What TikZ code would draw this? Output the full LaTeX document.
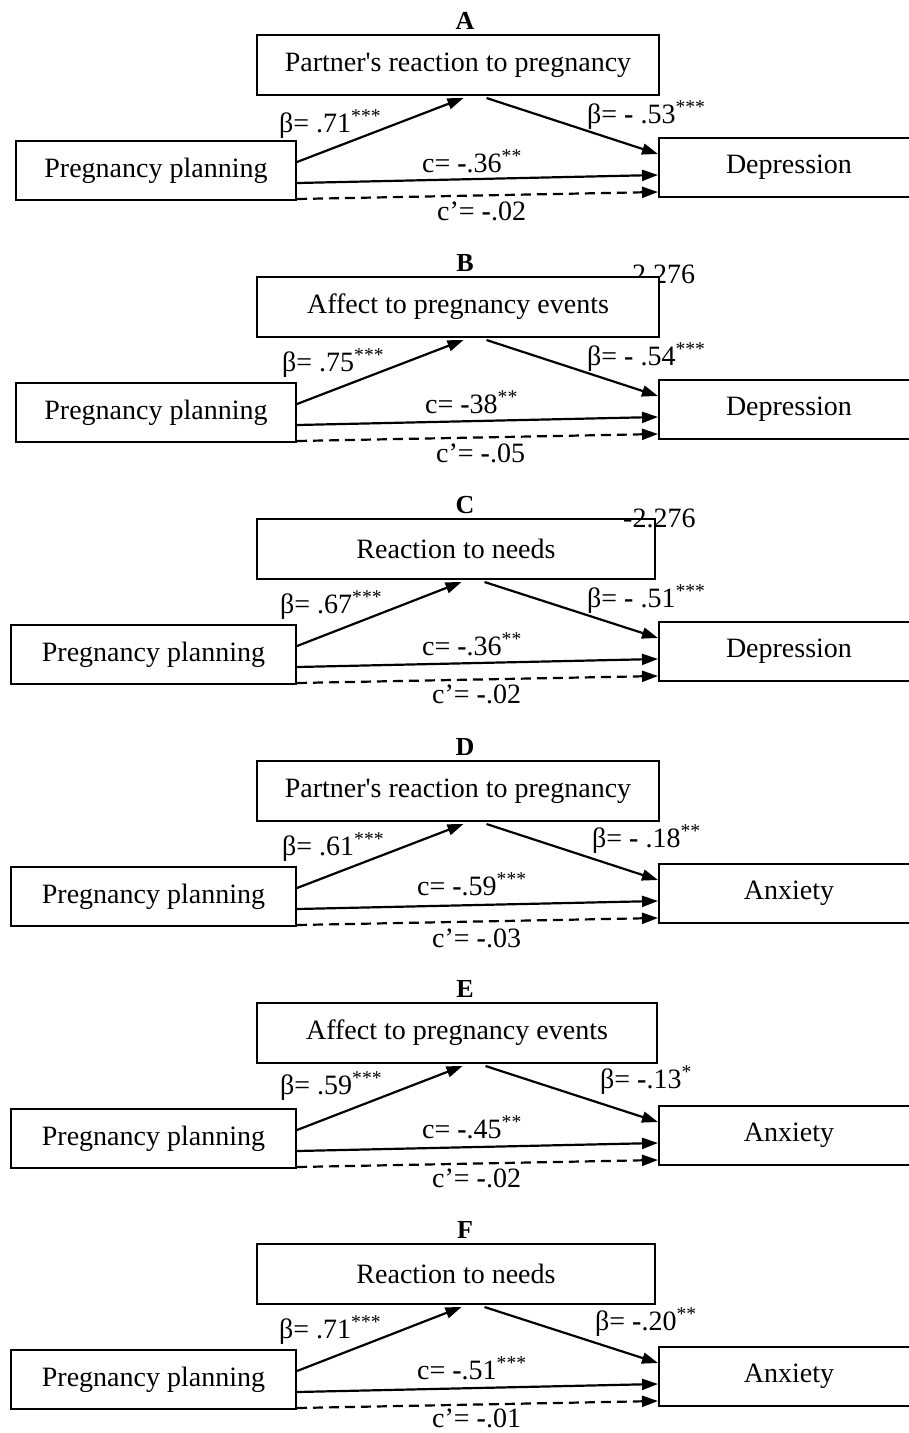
\documentclass[tikz,border=0pt]{standalone}
\usepackage{fontspec}
\setmainfont{Liberation Serif}[Ligatures=TeXOff]
\usetikzlibrary{arrows.meta}
\tikzset{
 bx/.style={draw, line width=2pt, fill=white, inner sep=0pt, font=\fontsize{28}{32}\selectfont},
 lbl/.style={inner sep=0pt, anchor=base west, font=\fontsize{28}{32}\selectfont},
 ltr/.style={inner sep=0pt, font=\bfseries\fontsize{26}{30}\selectfont},
 arr/.style={line width=2.2pt, -{Triangle[length=16pt,width=11pt]}},
 darr/.style={arr, dash pattern=on 10pt off 6pt},
}
\newcommand\mn{{\bfseries -}}
\newcommand\st[1]{\textsuperscript{#1}}
% #1 name, #2 letter, #3 mediator, #4 outcome, #5 left box width, #6 offset, #7 mediator width
\newcommand\mpanel[7]{%
\begin{scope}[shift={(0,#6)}]
\node[ltr] (T#1) at (465,21) {#2};
\node[bx, minimum width=#7pt, minimum height=60pt] (M#1) at ({257+#7/2},65) {#3};
\node[bx, minimum width=#5pt, minimum height=59pt] (L#1) at ({296-#5/2},170.5) {Pregnancy planning};
\node[bx, minimum width=260pt, minimum height=59pt] (R#1) at (789,167.5) {#4};
\draw[arr] ([yshift=8.5pt]L#1.east) -- ([xshift=5.5pt,yshift=-2pt]M#1.south);
\draw[arr] ([xshift=28.5pt,yshift=-2pt]M#1.south) -- ([yshift=13.5pt]R#1.west);
\draw[arr] ([yshift=-12.5pt]L#1.east) -- ([yshift=-7.5pt]R#1.west);
\draw[darr] ([yshift=-28.5pt]L#1.east) -- ([yshift=-24.5pt]R#1.west);
\end{scope}}
\begin{document}
\begin{tikzpicture}[x=1pt,y=-1pt]
\useasboundingbox (0,0) rectangle (909,1433);
% A
\mpanel{a}{A}{Partner's reaction to pregnancy}{Depression}{280}{0}{402}
\node[lbl] (a1) at (279,132) {β= .71\st{***}};
\node[lbl] (a2) at (587,123) {β= \mn\ .53\st{***}};
\node[lbl] (a3) at (422,172) {c= \mn.36\st{**}};
\node[lbl] (a4) at (437,220) {c’= \mn.02};
% B
\node[lbl] (bx) at (632,283) {2.276};
\mpanel{b}{B}{Affect to pregnancy events}{Depression}{280}{242}{402}
\node[lbl] (b1) at (282,371) {β= .75\st{***}};
\node[lbl] (b2) at (587,365) {β= \mn\ .54\st{***}};
\node[lbl] (b3) at (425,413) {c= \mn38\st{**}};
\node[lbl] (b4) at (436,462) {c’= \mn.05};
% C
\mpanel{c}{C}{Reaction to needs}{Depression}{285}{484}{398}
\node[lbl] (cx) at (623,527) {\mn2.276};
\node[lbl] (c1) at (280,613) {β= .67\st{***}};
\node[lbl] (c2) at (587,607) {β= \mn\ .51\st{***}};
\node[lbl] (c3) at (422,655) {c= \mn.36\st{**}};
\node[lbl] (c4) at (432,703) {c’= \mn.02};
% D
\mpanel{d}{D}{Partner's reaction to pregnancy}{Anxiety}{285}{726}{402}
\node[lbl] (d1) at (282,855) {β= .61\st{***}};
\node[lbl] (d2) at (592,847) {β= \mn\ .18\st{**}};
\node[lbl] (d3) at (417,895) {c= \mn.59\st{***}};
\node[lbl] (d4) at (432,947) {c’= \mn.03};
% E
\mpanel{e}{E}{Affect to pregnancy events}{Anxiety}{285}{968}{400}
\node[lbl] (e1) at (280,1094) {β= .59\st{***}};
\node[lbl] (e2) at (600,1088) {β= \mn.13\st{*}};
\node[lbl] (e3) at (422,1138) {c= \mn.45\st{**}};
\node[lbl] (e4) at (432,1187) {c’= \mn.02};
% F
\mpanel{f}{F}{Reaction to needs}{Anxiety}{285}{1209}{398}
\node[lbl] (f1) at (279,1338) {β= .71\st{***}};
\node[lbl] (f2) at (595,1330) {β= \mn.20\st{**}};
\node[lbl] (f3) at (417,1379) {c= \mn.51\st{***}};
\node[lbl] (f4) at (432,1427) {c’= \mn.01};
\end{tikzpicture}
\end{document}
